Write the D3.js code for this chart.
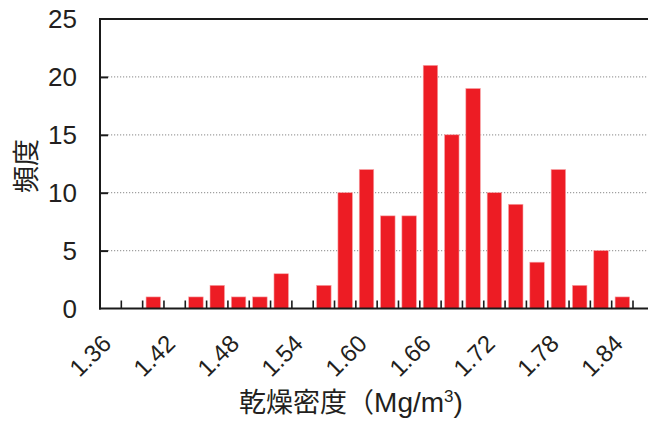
<!DOCTYPE html>
<html>
<head>
<meta charset="utf-8">
<script src="https://cdn.jsdelivr.net/npm/d3@7"></script>
<style>
  html, body { margin: 0; padding: 0; background: #fff; }
  svg { display: block; }
</style>
</head>
<body>
<svg id="chart" width="649" height="421"></svg>
<script>
const categories = ["1.36","1.38","1.40","1.42","1.44","1.46","1.48","1.50","1.52","1.54","1.56","1.58","1.60","1.62","1.64","1.66","1.68","1.70","1.72","1.74","1.76","1.78","1.80","1.82","1.84"];
const counts = [0,0,1,0,1,2,1,1,3,0,2,10,12,8,8,21,15,19,10,9,4,12,2,5,1];
const yTicks = [0,5,10,15,20,25];
const xTickLabels = ["1.36","1.42","1.48","1.54","1.60","1.66","1.72","1.78","1.84"];
const yTitle = "頻度";

(function () {
const svg = d3.select("#chart");
const pLeft = 100, pRight = 633, axisEnd = 648, pTop = 19, pBottom = 308.5;
const textColor = "#231f20";
const latin = "'Liberation Sans', Arial, 'Noto Sans CJK JP', sans-serif";
const cjk = "'Noto Sans CJK JP', 'Liberation Sans', sans-serif";

const x = d3.scaleBand().domain(categories).range([pLeft, pRight]).paddingInner(0.32).paddingOuter(0.16);
const y = d3.scaleLinear().domain([0, 25]).range([pBottom, pTop]);
const step = x.step();

// gridlines (dotted) for inner ticks
svg.append("g").selectAll("line").data(yTicks.filter(t => t > 0 && t < 25)).join("line")
  .attr("x1", pLeft + 8).attr("x2", axisEnd)
  .attr("y1", d => y(d)).attr("y2", d => y(d))
  .attr("stroke", "#a0a0a0").attr("stroke-width", 1.2).attr("stroke-dasharray", "1.2,1.8");

// top line at max
svg.append("line").attr("x1", pLeft).attr("x2", axisEnd).attr("y1", y(25)).attr("y2", y(25))
  .attr("stroke", "#1a1a1a").attr("stroke-width", 2);

// bars
svg.append("g").selectAll("rect").data(categories.map((c, i) => ({c, v: counts[i]})).filter(d => d.v > 0)).join("rect")
  .attr("x", d => x(d.c)).attr("width", x.bandwidth())
  .attr("y", d => y(d.v)).attr("height", d => y(0) - y(d.v))
  .attr("fill", "#ed1c24").attr("stroke", "#f7a5a8").attr("stroke-width", 0.6);

// y axis
const yAxis = d3.axisRight(y).tickValues(yTicks.filter(t => t > 0 && t < 25)).tickSize(8).tickFormat("");
const gy = svg.append("g").attr("transform", `translate(${pLeft},0)`).call(yAxis);
gy.select(".domain").remove();
gy.selectAll(".tick line").attr("stroke", "#1a1a1a").attr("stroke-width", 2);
svg.append("line").attr("x1", pLeft).attr("x2", pLeft).attr("y1", pTop - 1).attr("y2", pBottom + 1)
  .attr("stroke", "#1a1a1a").attr("stroke-width", 2);

// y tick labels
svg.append("g").selectAll("text").data(yTicks).join("text")
  .attr("x", 77).attr("y", d => y(d)).attr("dy", "0.36em")
  .attr("text-anchor", "end").attr("font-family", latin).attr("font-size", 26)
  .attr("fill", textColor).text(d => d);

// x boundary ticks (inward)
const boundaries = categories.map(c => x(c) + x.bandwidth() + step * x.paddingInner() / 2);
svg.append("g").selectAll("line").data(boundaries).join("line")
  .attr("x1", d => d).attr("x2", d => d).attr("y1", pBottom).attr("y2", pBottom - 8)
  .attr("stroke", "#1a1a1a").attr("stroke-width", 1.6);

// x axis line
svg.append("line").attr("x1", pLeft - 1).attr("x2", axisEnd).attr("y1", pBottom).attr("y2", pBottom)
  .attr("stroke", "#1a1a1a").attr("stroke-width", 2);

// x tick labels rotated
svg.append("g").selectAll("text").data(xTickLabels).join("text")
  .attr("transform", d => `translate(${x(d) + x.bandwidth() / 2 + 2},345) rotate(-45)`)
  .attr("text-anchor", "end").attr("font-family", latin).attr("font-size", 24)
  .attr("fill", textColor).text(d => d);

// x title
const xt = svg.append("text").attr("x", 351).attr("y", 412).attr("text-anchor", "middle")
  .attr("fill", textColor);
xt.append("tspan").attr("font-family", cjk).attr("font-size", 27).text("乾燥密度（");
xt.append("tspan").attr("font-family", latin).attr("font-size", 28).text("Mg/m");
xt.append("tspan").attr("font-family", latin).attr("font-size", 17).attr("dy", -10).text("3");
xt.append("tspan").attr("font-family", latin).attr("font-size", 28).attr("dy", 10).text(")");

// y title
svg.append("text").attr("transform", "translate(36,166) rotate(-90)")
  .attr("text-anchor", "middle").attr("font-family", cjk).attr("font-size", 27)
  .attr("fill", textColor).text(yTitle);
})();
</script>
</body>
</html>
